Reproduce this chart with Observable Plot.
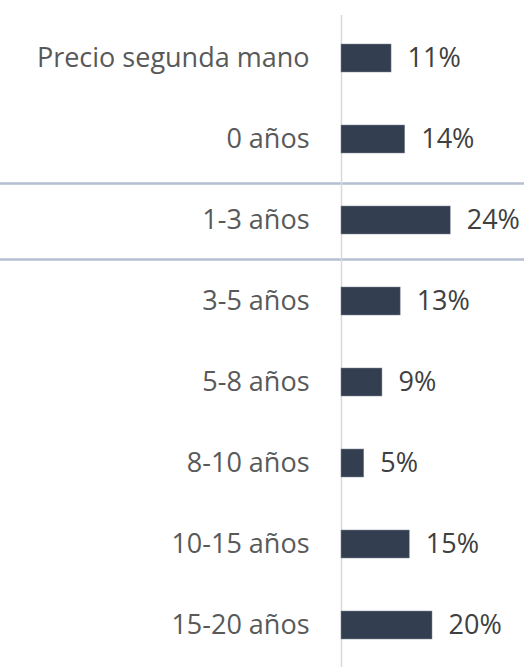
<!DOCTYPE html>
<html>
<head>
<meta charset="utf-8">
<script src="https://cdn.jsdelivr.net/npm/d3@7"></script>
<script src="https://cdn.jsdelivr.net/npm/@observablehq/plot@0.6"></script>
<style>
  html, body { margin: 0; padding: 0; background: #ffffff; }
  #chart svg { display: block; }
</style>
</head>
<body>
<div id="chart"></div>
<script>
const categories = ["Precio segunda mano", "0 años", "1-3 años", "3-5 años", "5-8 años", "8-10 años", "10-15 años", "15-20 años"];
const values = [11, 14, 24, 13, 9, 5, 15, 20];
const highlighted = ["1-3 años"];

const data = categories.map((c, i) => ({category: c, value: values[i]}));

const chart = Plot.plot({
  width: 524,
  height: 667,
  marginLeft: 341,
  marginRight: 1,
  marginTop: 15,
  marginBottom: 0,
  style: {fontFamily: "'Open Sans', sans-serif", fontSize: "27px", color: "#595959", background: "#ffffff"},
  x: {domain: [0, 40], axis: null},
  y: {domain: categories, paddingInner: 0.656, paddingOuter: 0.33, label: null},
  marks: [
    Plot.ruleY(highlighted, {y: d => d, x1: -80, x2: 45, dy: -37, stroke: "#B4BFD2", strokeWidth: 2.5, clip: false}),
    Plot.ruleY(highlighted, {y: d => d, x1: -80, x2: 45, dy: 39, stroke: "#B4BFD2", strokeWidth: 2.5, clip: false}),
    Plot.ruleX([0], {stroke: "#D9D9D9", strokeWidth: 1.5}),
    Plot.barX(data, {y: "category", x: "value", fill: "#333F50", stroke: "#7F8799", strokeWidth: 0.5}),
    Plot.text(data, {y: "category", x: "value", text: d => `${d.value}%`, dx: 16, textAnchor: "start", fill: "#404040", fontSize: 27}),
    Plot.axisY({tickSize: 0, tickPadding: 32, fontSize: 27, fill: "#595959", label: null})
  ]
});
document.getElementById("chart").appendChild(chart);
</script>
</body>
</html>
